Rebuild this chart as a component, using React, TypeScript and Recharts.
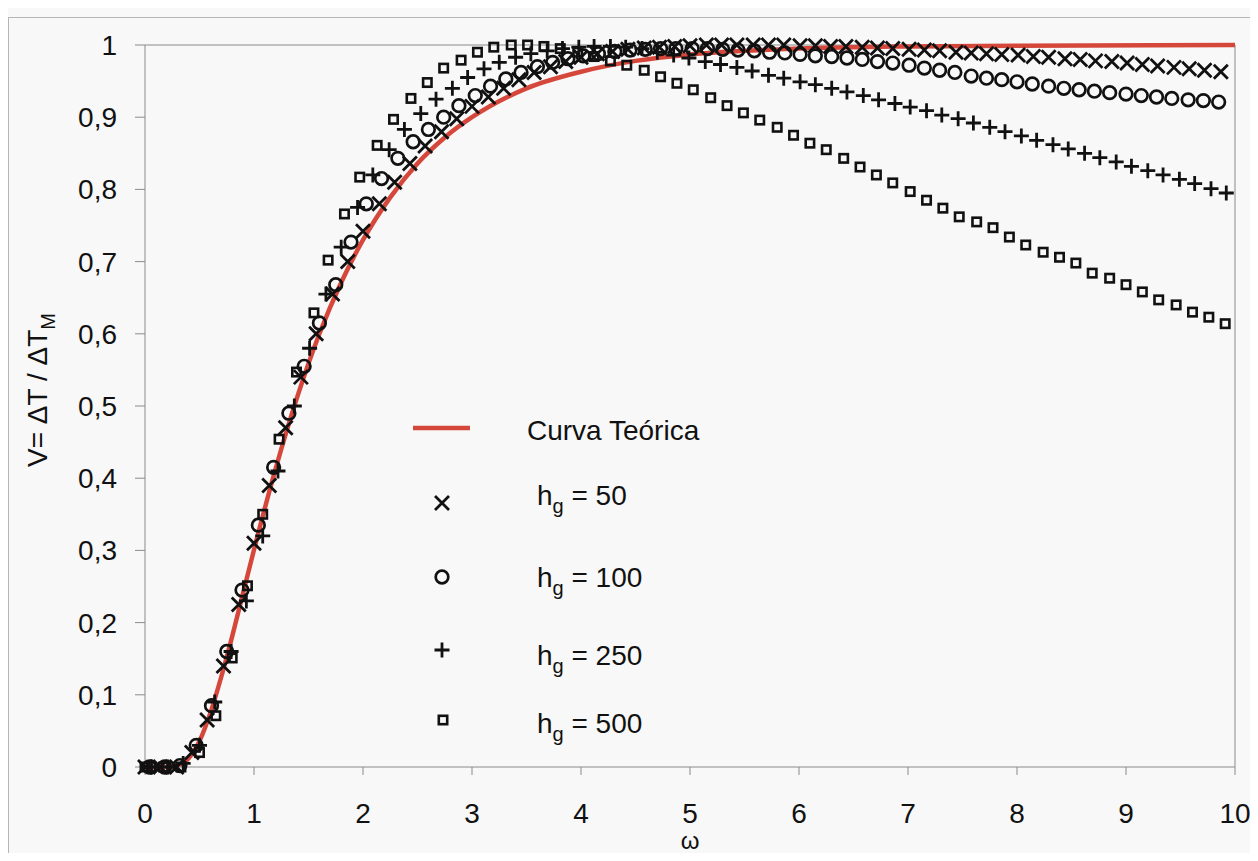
import {
  ComposedChart,
  Line,
  Scatter,
  XAxis,
  YAxis,
  Legend,
  ReferenceLine,
} from "recharts";

// Curva teórica
const teoX = [0, 0.2, 0.3, 0.4, 0.5, 0.6, 0.7, 0.8, 0.9, 1.0, 1.2, 1.4, 1.6, 1.8, 2.0, 2.25, 2.5, 2.75, 3.0, 3.5, 4.0, 4.5, 5.0, 6.0, 7.0, 8.0, 10.0];
const teoV = [0, 0, 0.002, 0.012, 0.036, 0.075, 0.125, 0.181, 0.241, 0.301, 0.414, 0.514, 0.6, 0.671, 0.73, 0.789, 0.836, 0.872, 0.9, 0.94, 0.963, 0.978, 0.987, 0.995, 0.998, 0.999, 1.0];

// hg = 50
const h50X = [0, 0.14, 0.29, 0.43, 0.57, 0.72, 0.86, 1.0, 1.14, 1.29, 1.43, 1.57, 1.72, 1.86, 2.0, 2.15, 2.29, 2.43, 2.57, 2.72, 2.86, 3.0, 3.15, 3.29, 3.43, 3.57, 3.72, 3.86, 4.0, 4.15, 4.29, 4.43, 4.58, 4.72, 4.86, 5.0, 5.15, 5.29, 5.43, 5.58, 5.72, 5.86, 6.01, 6.15, 6.29, 6.43, 6.58, 6.72, 6.86, 7.01, 7.15, 7.29, 7.44, 7.58, 7.72, 7.86, 8.01, 8.15, 8.29, 8.44, 8.58, 8.72, 8.87, 9.01, 9.15, 9.29, 9.44, 9.58, 9.72, 9.87];
const h50V = [0, 0, 0, 0.02, 0.065, 0.14, 0.225, 0.31, 0.39, 0.47, 0.54, 0.6, 0.655, 0.7, 0.742, 0.78, 0.81, 0.836, 0.86, 0.88, 0.898, 0.915, 0.928, 0.94, 0.952, 0.962, 0.97, 0.977, 0.983, 0.988, 0.991, 0.994, 0.996, 0.997, 0.998, 0.999, 1.0, 1.0, 1.0, 1.0, 1.0, 1.0, 0.999, 0.999, 0.998, 0.998, 0.997, 0.996, 0.995, 0.994, 0.993, 0.992, 0.99, 0.989, 0.988, 0.987, 0.986, 0.984, 0.983, 0.981, 0.98, 0.978, 0.977, 0.975, 0.973, 0.971, 0.969, 0.967, 0.965, 0.963];

// hg = 100
const h100X = [0.04, 0.18, 0.32, 0.47, 0.61, 0.75, 0.89, 1.04, 1.18, 1.32, 1.46, 1.6, 1.75, 1.89, 2.03, 2.17, 2.32, 2.46, 2.6, 2.74, 2.88, 3.03, 3.17, 3.31, 3.45, 3.6, 3.74, 3.88, 4.02, 4.16, 4.31, 4.45, 4.59, 4.73, 4.87, 5.02, 5.16, 5.3, 5.44, 5.59, 5.73, 5.87, 6.01, 6.15, 6.3, 6.44, 6.58, 6.72, 6.86, 7.01, 7.15, 7.29, 7.43, 7.58, 7.72, 7.86, 8.0, 8.14, 8.29, 8.43, 8.57, 8.71, 8.85, 9.0, 9.14, 9.28, 9.42, 9.57, 9.71, 9.85];
const h100V = [0, 0, 0.002, 0.03, 0.085, 0.16, 0.245, 0.335, 0.415, 0.49, 0.555, 0.615, 0.668, 0.727, 0.78, 0.815, 0.843, 0.866, 0.883, 0.9, 0.916, 0.93, 0.943, 0.953, 0.962, 0.97, 0.976, 0.981, 0.985, 0.988, 0.991, 0.993, 0.994, 0.995, 0.995, 0.995, 0.995, 0.994, 0.993, 0.992, 0.99, 0.989, 0.987, 0.985, 0.984, 0.982, 0.98, 0.977, 0.975, 0.972, 0.968, 0.965, 0.962, 0.957, 0.954, 0.952, 0.949, 0.946, 0.943, 0.94, 0.938, 0.936, 0.934, 0.932, 0.93, 0.928, 0.926, 0.924, 0.923, 0.921];

// hg = 250
const h250X = [0.06, 0.21, 0.35, 0.5, 0.64, 0.79, 0.93, 1.08, 1.22, 1.37, 1.51, 1.66, 1.8, 1.95, 2.09, 2.24, 2.38, 2.53, 2.67, 2.82, 2.96, 3.11, 3.25, 3.4, 3.54, 3.69, 3.83, 3.98, 4.12, 4.27, 4.41, 4.56, 4.7, 4.85, 4.99, 5.14, 5.28, 5.43, 5.57, 5.72, 5.86, 6.01, 6.15, 6.3, 6.44, 6.59, 6.73, 6.88, 7.02, 7.17, 7.31, 7.46, 7.6, 7.75, 7.89, 8.04, 8.18, 8.33, 8.47, 8.62, 8.76, 8.91, 9.05, 9.2, 9.34, 9.49, 9.63, 9.78, 9.92];
const h250V = [0, 0, 0.005, 0.03, 0.09, 0.16, 0.23, 0.32, 0.41, 0.5, 0.58, 0.655, 0.72, 0.775, 0.82, 0.855, 0.883, 0.905, 0.925, 0.94, 0.955, 0.967, 0.976, 0.983, 0.988, 0.992, 0.995, 0.997, 0.998, 0.998, 0.997, 0.995, 0.99, 0.986, 0.982, 0.977, 0.973, 0.969, 0.964, 0.958, 0.954, 0.949, 0.945, 0.94, 0.935, 0.93, 0.924, 0.919, 0.914, 0.909, 0.903, 0.898, 0.892, 0.886, 0.88, 0.874, 0.868, 0.862, 0.856, 0.85, 0.844, 0.838, 0.832, 0.826, 0.82, 0.814, 0.808, 0.801, 0.795];

// hg = 500
const h500X = [0, 0.17, 0.33, 0.5, 0.65, 0.8, 0.94, 1.08, 1.23, 1.39, 1.55, 1.68, 1.83, 1.97, 2.13, 2.28, 2.44, 2.59, 2.74, 2.9, 3.05, 3.2, 3.36, 3.51, 3.66, 3.81, 3.97, 4.12, 4.27, 4.42, 4.58, 4.73, 4.88, 5.03, 5.19, 5.34, 5.49, 5.64, 5.8, 5.95, 6.1, 6.25, 6.41, 6.56, 6.71, 6.86, 7.02, 7.17, 7.32, 7.47, 7.63, 7.78, 7.93, 8.08, 8.24, 8.39, 8.54, 8.69, 8.85, 9.0, 9.15, 9.3, 9.46, 9.61, 9.76, 9.91];
const h500V = [0, 0, 0, 0.02, 0.071, 0.151, 0.251, 0.35, 0.454, 0.547, 0.629, 0.702, 0.766, 0.817, 0.861, 0.897, 0.926, 0.948, 0.968, 0.979, 0.99, 0.997, 1.0, 1.0, 0.998, 0.995, 0.99, 0.984, 0.978, 0.972, 0.965, 0.956, 0.947, 0.938, 0.927, 0.916, 0.906, 0.896, 0.886, 0.875, 0.864, 0.855, 0.843, 0.831, 0.82, 0.809, 0.797, 0.785, 0.774, 0.762, 0.755, 0.747, 0.734, 0.723, 0.713, 0.706, 0.698, 0.684, 0.677, 0.668, 0.658, 0.647, 0.64, 0.63, 0.623, 0.614];

const xTicks = [0, 1, 2, 3, 4, 5, 6, 7, 8, 9, 10];
const yTicks = [0, 0.1, 0.2, 0.3, 0.4, 0.5, 0.6, 0.7, 0.8, 0.9, 1];

const zip = (xs: number[], ys: number[]) => xs.map((x, i) => ({ x, y: ys[i] }));

const teorica = zip(teoX, teoV);
const s50 = zip(h50X, h50V);
const s100 = zip(h100X, h100V);
const s250 = zip(h250X, h250V);
const s500 = zip(h500X, h500V);

const INK = "#111";
const RED = "#d6473b";
const GRID = "#8a8a8a";
const FONT = "'Liberation Sans', Arial, sans-serif";

const Times = ({ cx, cy }: any) => (
  <path
    d={`M${cx - 7},${cy - 7}L${cx + 7},${cy + 7}M${cx - 7},${cy + 7}L${cx + 7},${cy - 7}`}
    stroke={INK}
    strokeWidth={2.8}
    fill="none"
  />
);
const Ring = ({ cx, cy }: any) => (
  <circle cx={cx} cy={cy} r={6.3} stroke={INK} strokeWidth={2.7} fill="none" />
);
const Plus = ({ cx, cy }: any) => (
  <path
    d={`M${cx - 7.5},${cy}L${cx + 7.5},${cy}M${cx},${cy - 7.5}L${cx},${cy + 7.5}`}
    stroke={INK}
    strokeWidth={2.8}
    fill="none"
  />
);
const Box = ({ cx, cy }: any) => (
  <rect x={cx - 4.2} y={cy - 4.2} width={8.4} height={8.4} stroke={INK} strokeWidth={2.6} fill="none" />
);

const Hg = ({ x, y, v }: any) => (
  <text x={x} y={y} fontSize={28} fontFamily={FONT} fill={INK}>
    h
    <tspan fontSize={20} dy={8}>g</tspan>
    <tspan dy={-8}>{" = " + v}</tspan>
  </text>
);

const renderLegend = () => (
  <svg width={420} height={350}>
    <line x1={13} y1={28} x2={70} y2={28} stroke={RED} strokeWidth={4.5} />
    <text x={127} y={40} fontSize={28} fontFamily={FONT} fill={INK}>
      Curva Teórica
    </text>
    <Times cx={42} cy={103} />
    <Hg x={137} y={105} v="50" />
    <Ring cx={42} cy={177} />
    <Hg x={137} y={187} v="100" />
    <Plus cx={42} cy={250} />
    <Hg x={137} y={265} v="250" />
    <Box cx={43} cy={320} />
    <Hg x={137} y={333} v="500" />
  </svg>
);

const fmtY = (v: number) => (v === 0 || v === 1 ? String(v) : v.toFixed(1).replace(".", ","));

export default () => {
  return (
    <div
      style={{
        position: "relative",
        margin: -8,
        width: 1258,
        height: 861,
        background: "#f8f8f8",
        overflow: "hidden",
      }}
    >
      <div style={{ position: "absolute", left: 8, top: 17, width: 1, height: 844, background: "#b5b5b5" }} />
      <div style={{ position: "absolute", left: 8, top: 17, width: 1250, height: 1, background: "#b5b5b5" }} />
      <ComposedChart
        width={1258}
        height={861}
        margin={{ top: 45, right: 23, left: 0, bottom: 0 }}
        style={{ position: "absolute", left: 0, top: 0 }}
      >
        <XAxis
          type="number"
          dataKey="x"
          domain={[0, 10]}
          ticks={xTicks}
          interval={0}
          height={94}
          stroke={GRID}
          tickSize={8}
          tickMargin={28}
          tick={{ fill: INK, fontSize: 28, fontFamily: FONT }}
          label={{
            content: () => (
              <text x={690} y={849} textAnchor="middle" fontSize={24} fontFamily={FONT} fill={INK}>
                ω
              </text>
            ),
          }}
        />
        <YAxis
          type="number"
          dataKey="y"
          domain={[0, 1]}
          ticks={yTicks}
          interval={0}
          width={145}
          stroke={GRID}
          tickSize={10}
          tickMargin={18}
          tickFormatter={fmtY}
          tick={{ fill: INK, fontSize: 28, fontFamily: FONT }}
          label={{
            content: () => (
              <text
                transform="translate(47, 390) rotate(-90)"
                textAnchor="middle"
                fontSize={28}
                fontFamily={FONT}
                fill={INK}
              >
                V= ΔT / ΔT
                <tspan fontSize={20} dy={8}>M</tspan>
              </text>
            ),
          }}
        />
        <ReferenceLine y={1} stroke={GRID} strokeWidth={1} />
        <ReferenceLine x={10} stroke={GRID} strokeWidth={1} />
        <Legend
          layout="horizontal"
          verticalAlign="middle"
          align="center"
          content={renderLegend}
          wrapperStyle={{ left: 400, top: 400, width: 420, height: 350 }}
        />
        <Line
          data={teorica}
          dataKey="y"
          type="monotone"
          stroke={RED}
          strokeWidth={4.5}
          dot={false}
          activeDot={false}
          isAnimationActive={false}
        />
        <Scatter data={s50} dataKey="y" shape={Times} isAnimationActive={false} />
        <Scatter data={s100} dataKey="y" shape={Ring} isAnimationActive={false} />
        <Scatter data={s250} dataKey="y" shape={Plus} isAnimationActive={false} />
        <Scatter data={s500} dataKey="y" shape={Box} isAnimationActive={false} />
      </ComposedChart>
    </div>
  );
};
